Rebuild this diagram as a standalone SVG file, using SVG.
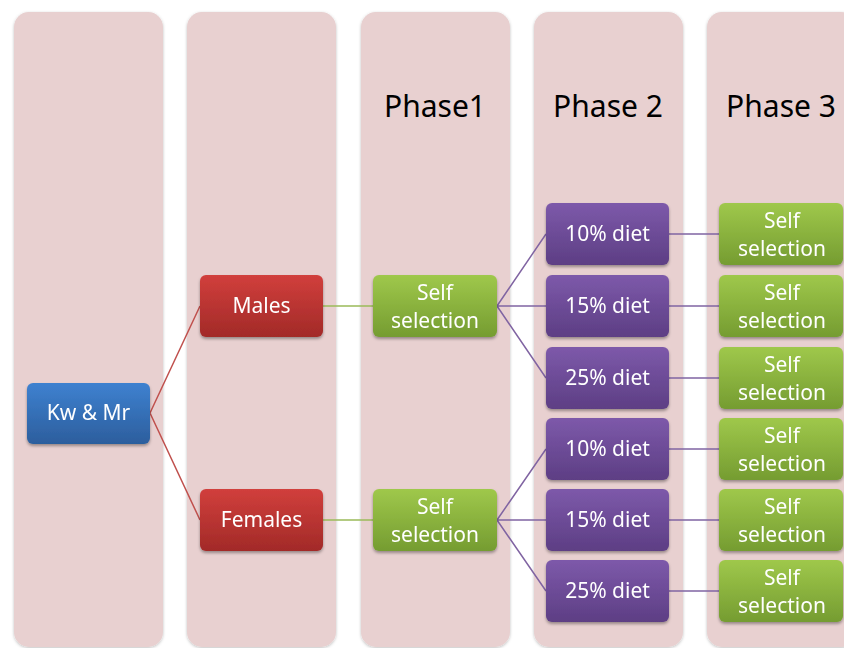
<svg xmlns="http://www.w3.org/2000/svg" width="844" height="648" viewBox="0 0 844 648">
<defs>
<filter id="cs" x="-10%" y="-5%" width="120%" height="110%"><feDropShadow dx="0" dy="1" stdDeviation="1.8" flood-color="#000" flood-opacity="0.25"/></filter>
<filter id="ns" x="-10%" y="-10%" width="120%" height="140%"><feDropShadow dx="0" dy="2" stdDeviation="1.8" flood-color="#000" flood-opacity="0.35"/></filter>
<linearGradient id="gb" x1="0" y1="0" x2="0" y2="1"><stop offset="0" stop-color="#3e81d0"/><stop offset="1" stop-color="#2c5e9d"/></linearGradient>
<linearGradient id="gr" x1="0" y1="0" x2="0" y2="1"><stop offset="0" stop-color="#d13f3c"/><stop offset="1" stop-color="#a22a28"/></linearGradient>
<linearGradient id="gg" x1="0" y1="0" x2="0" y2="1"><stop offset="0" stop-color="#9fc84b"/><stop offset="1" stop-color="#759c31"/></linearGradient>
<linearGradient id="gp" x1="0" y1="0" x2="0" y2="1"><stop offset="0" stop-color="#7d59aa"/><stop offset="1" stop-color="#5d3e84"/></linearGradient>
</defs>
<style>
.col{fill:#e8d0d0;filter:url(#cs)}
.hd{font-family:"Noto Sans",sans-serif;font-size:30px;fill:#000;text-anchor:middle}
.t{font-family:"Noto Sans",sans-serif;font-size:21px;fill:#fff;text-anchor:middle}
.n{filter:url(#ns)}
.cr{stroke:#c0504d;stroke-width:1.5;fill:none}
.cg{stroke:#9bbb59;stroke-width:1.5;fill:none}
.cp{stroke:#8064a2;stroke-width:1.5;fill:none}
</style>
<rect width="844" height="648" fill="#fff"/>
<g id="columns">
<rect class="col" x="14" y="12" width="149" height="635" rx="15"/>
<rect class="col" x="187" y="12" width="149" height="635" rx="15"/>
<rect class="col" x="361" y="12" width="149" height="635" rx="15"/>
<rect class="col" x="534" y="12" width="149" height="635" rx="15"/>
<rect class="col" x="707" y="12" width="149" height="635" rx="15"/>
</g>
<g id="headers">
<text class="hd" x="435" y="117">Phase1</text>
<text class="hd" x="608" y="117">Phase 2</text>
<text class="hd" x="781" y="117">Phase 3</text>
</g>
<g id="connectors">
<path class="cr" d="M150 413 L200 306 M150 413 L200 520"/>
<path class="cg" d="M323 306 L373 306 M323 520 L373 520"/>
<path class="cp" d="M497 306 L546 234 M497 306 L546 306 M497 306 L546 378"/>
<path class="cp" d="M497 520 L546 449 M497 520 L546 520 M497 520 L546 591"/>
<path class="cp" d="M669 234 L719 234 M669 306 L719 306 M669 378 L719 378 M669 449 L719 449 M669 520 L719 520 M669 591 L719 591"/>
</g>
<g id="kwmr" class="n"><rect x="27" y="383" width="123" height="61" rx="6" fill="url(#gb)"/><text class="t" x="88.5" y="420">Kw &amp; Mr</text></g>
<g id="males" class="n"><rect x="200" y="275" width="123" height="62" rx="6" fill="url(#gr)"/><text class="t" x="261.5" y="313">Males</text></g>
<g id="females" class="n"><rect x="200" y="489" width="123" height="62" rx="6" fill="url(#gr)"/><text class="t" x="261.5" y="527">Females</text></g>
<g id="p1m" class="n"><rect x="373" y="275" width="124" height="62" rx="6" fill="url(#gg)"/><text class="t" x="435" y="300">Self</text><text class="t" x="435" y="328">selection</text></g>
<g id="p1f" class="n"><rect x="373" y="489" width="124" height="62" rx="6" fill="url(#gg)"/><text class="t" x="435" y="514">Self</text><text class="t" x="435" y="542">selection</text></g>
<g id="d1" class="n"><rect x="546" y="203" width="123" height="62" rx="6" fill="url(#gp)"/><text class="t" x="607.5" y="241">10% diet</text></g>
<g id="d2" class="n"><rect x="546" y="275" width="123" height="62" rx="6" fill="url(#gp)"/><text class="t" x="607.5" y="313">15% diet</text></g>
<g id="d3" class="n"><rect x="546" y="347" width="123" height="62" rx="6" fill="url(#gp)"/><text class="t" x="607.5" y="385">25% diet</text></g>
<g id="d4" class="n"><rect x="546" y="418" width="123" height="62" rx="6" fill="url(#gp)"/><text class="t" x="607.5" y="456">10% diet</text></g>
<g id="d5" class="n"><rect x="546" y="489" width="123" height="62" rx="6" fill="url(#gp)"/><text class="t" x="607.5" y="527">15% diet</text></g>
<g id="d6" class="n"><rect x="546" y="560" width="123" height="62" rx="6" fill="url(#gp)"/><text class="t" x="607.5" y="598">25% diet</text></g>
<g id="s1" class="n"><rect x="719" y="203" width="124" height="62" rx="6" fill="url(#gg)"/><text class="t" x="782" y="228">Self</text><text class="t" x="782" y="256">selection</text></g>
<g id="s2" class="n"><rect x="719" y="275" width="124" height="62" rx="6" fill="url(#gg)"/><text class="t" x="782" y="300">Self</text><text class="t" x="782" y="328">selection</text></g>
<g id="s3" class="n"><rect x="719" y="347" width="124" height="62" rx="6" fill="url(#gg)"/><text class="t" x="782" y="372">Self</text><text class="t" x="782" y="400">selection</text></g>
<g id="s4" class="n"><rect x="719" y="418" width="124" height="62" rx="6" fill="url(#gg)"/><text class="t" x="782" y="443">Self</text><text class="t" x="782" y="471">selection</text></g>
<g id="s5" class="n"><rect x="719" y="489" width="124" height="62" rx="6" fill="url(#gg)"/><text class="t" x="782" y="514">Self</text><text class="t" x="782" y="542">selection</text></g>
<g id="s6" class="n"><rect x="719" y="560" width="124" height="62" rx="6" fill="url(#gg)"/><text class="t" x="782" y="585">Self</text><text class="t" x="782" y="613">selection</text></g>
</svg>
